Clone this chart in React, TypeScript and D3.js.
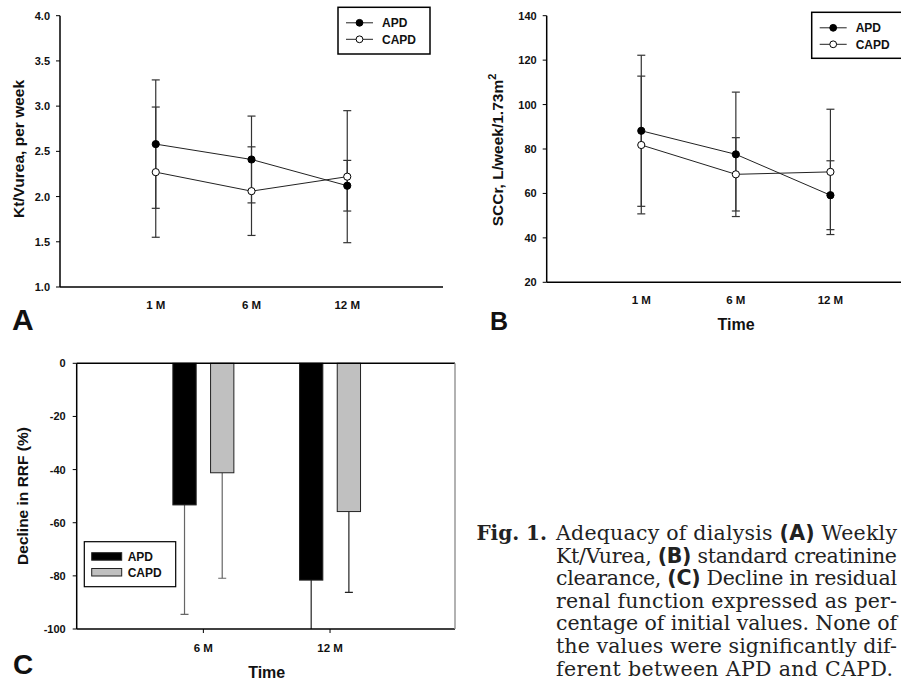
import React from "react";
import * as d3 from "d3";

// ---- data ----
const timeLabels = ["1 M", "6 M", "12 M"];
const ktvAPD = [2.58, 2.41, 2.12];
const ktvAPDsd = [0.71, 0.48, 0.28];
const ktvCAPD = [2.27, 2.06, 2.22];
const ktvCAPDsd = [0.72, 0.49, 0.73];
const ktvTicks = [1.0, 1.5, 2.0, 2.5, 3.0, 3.5, 4.0];

const sccrAPD = [88.2, 77.6, 59.2];
const sccrAPDsd = [34, 28, 15.5];
const sccrCAPD = [81.8, 68.6, 69.7];
const sccrCAPDsd = [31, 16.5, 28.2];
const sccrTicks = [20, 40, 60, 80, 100, 120, 140];

const rrfLabels = ["6 M", "12 M"];
const rrfAPD = [-53.3, -81.6];
const rrfAPDsd = [41.2, 30];
const rrfCAPD = [-41.2, -55.8];
const rrfCAPDsd = [39.7, 30.4];
const rrfTicks = [-100, -80, -60, -40, -20, 0];
const seriesNames = ["APD", "CAPD"];

const captionLines = [
  [["b", "Fig. 1."]],
  [["n", "Adequacy of dialysis "], ["s", "(A)"], ["n", " Weekly"]],
  [["n", "Kt/Vurea, "], ["s", "(B)"], ["n", " standard creatinine"]],
  [["n", "clearance, "], ["s", "(C)"], ["n", " Decline in residual"]],
  [["n", "renal function expressed as per-"]],
  [["n", "centage of initial values. None of"]],
  [["n", "the values were significantly dif-"]],
  [["n", "ferent between APD and CAPD."]],
];

const SANS = "'Liberation Sans', Arial, sans-serif";
const SERIF = "'DejaVu Serif', serif";

function LinePanel(props: {
  x0: number; x1: number; yTop: number; yBot: number; domain: [number, number];
  ticks: number[]; fmt: (v: number) => string; apd: number[]; apdSd: number[];
  capd: number[]; capdSd: number[]; legend: { x: number; y: number; w: number; h: number };
  xLabelY: number;
}) {
  const { x0, x1, yTop, yBot, domain, ticks, fmt, apd, apdSd, capd, capdSd, legend, xLabelY } = props;
  const x = d3.scaleLinear().domain([0, 4]).range([x0, x1]);
  const y = d3.scaleLinear().domain(domain).range([yBot, yTop]);
  const line = d3.line<number>().x((_, i) => x(i + 1)).y((d) => y(d));
  const series = [
    { v: apd, sd: apdSd, fill: "#000" },
    { v: capd, sd: capdSd, fill: "#fff" },
  ];
  return (
    <g>
      <line x1={x0} x2={x0} y1={yTop} y2={yBot} stroke="#000" strokeWidth={1.5} />
      <line x1={x0} x2={x1} y1={yBot} y2={yBot} stroke="#000" strokeWidth={1.5} />
      {ticks.map((t) => (
        <g key={t}>
          <line x1={x0 - 4} x2={x0} y1={y(t)} y2={y(t)} stroke="#000" strokeWidth={1} />
          <text x={x0 - 10} y={y(t) + 4} textAnchor="end" fontFamily={SANS} fontWeight="bold" fontSize={11} fill="#111">
            {fmt(t)}
          </text>
        </g>
      ))}
      {timeLabels.map((l, i) => (
        <text key={l} x={x(i + 1)} y={xLabelY} textAnchor="middle" fontFamily={SANS} fontWeight="bold" fontSize={11.5} fill="#111">
          {l}
        </text>
      ))}
      {series.map((s, si) =>
        s.v.map((v, i) => {
          const cx = x(i + 1);
          const hi = y(v + s.sd[i]);
          const lo = y(v - s.sd[i]);
          return (
            <g key={si + "-" + i} stroke="#333" strokeWidth={1.2}>
              <line x1={cx} x2={cx} y1={hi} y2={lo} />
              <line x1={cx - 4} x2={cx + 4} y1={hi} y2={hi} />
              <line x1={cx - 4} x2={cx + 4} y1={lo} y2={lo} />
            </g>
          );
        })
      )}
      {series.map((s, si) => (
        <path key={"l" + si} d={line(s.v) || ""} fill="none" stroke="#222" strokeWidth={1} />
      ))}
      {series.map((s, si) =>
        s.v.map((v, i) => (
          <circle key={"c" + si + i} cx={x(i + 1)} cy={y(v)} r={3.6} fill={s.fill} stroke="#000" strokeWidth={1} />
        ))
      )}
      <rect x={legend.x} y={legend.y} width={legend.w} height={legend.h} fill="#fff" stroke="#000" strokeWidth={1.5} />
      {series.map((s, si) => {
        const ly = legend.y + 15.5 + si * 16.5;
        const lx = legend.x + 8;
        return (
          <g key={"lg" + si}>
            <line x1={lx} x2={lx + 27} y1={ly} y2={ly} stroke="#222" strokeWidth={1} />
            <circle cx={lx + 13.5} cy={ly} r={3.4} fill={s.fill} stroke="#000" strokeWidth={1} />
            <text x={lx + 36} y={ly + 4.3} fontFamily={SANS} fontWeight="bold" fontSize={12} fill="#111">
              {seriesNames[si]}
            </text>
          </g>
        );
      })}
    </g>
  );
}

function BarPanel() {
  const x0 = 76.7, x1 = 456.7, yTop = 363.3, yBot = 629;
  const x = d3.scaleLinear().domain([0, 3]).range([x0, x1]);
  const y = d3.scaleLinear().domain([-100, 0]).range([yBot, yTop]);
  const inner = d3.scaleBand<string>().domain(seriesNames).range([-30.5, 30.5]).paddingInner(0.382);
  const data = [
    { v: rrfAPD, sd: rrfAPDsd, fill: "#000" },
    { v: rrfCAPD, sd: rrfCAPDsd, fill: "#c0c0c0" },
  ];
  return (
    <g>
      <defs>
        <clipPath id="cclip">
          <rect x={x0} y={yTop} width={x1 - x0} height={yBot - yTop} />
        </clipPath>
      </defs>
      {data.map((s, si) =>
        s.v.map((v, i) => {
          const bx = x(i + 1) + (inner(seriesNames[si]) as number);
          const bw = inner.bandwidth();
          const cx = bx + bw / 2;
          const lo = y(v - s.sd[i]);
          return (
            <g key={si + "-" + i}>
              <g clipPath="url(#cclip)" stroke={i === 0 ? "#666" : "#222"} strokeWidth={1.2}>
                <line x1={cx} x2={cx} y1={y(v)} y2={lo} />
                <line x1={cx - 4} x2={cx + 4} y1={lo} y2={lo} />
              </g>
              <rect x={bx} y={y(0)} width={bw} height={y(v) - y(0)} fill={s.fill} stroke="#222" strokeWidth={1} />
            </g>
          );
        })
      )}
      <line x1={x0} x2={x0} y1={yTop} y2={yBot} stroke="#000" strokeWidth={1.5} />
      <line x1={x0} x2={455} y1={yBot} y2={yBot} stroke="#000" strokeWidth={1.5} />
      <line x1={x0} x2={455} y1={yTop} y2={yTop} stroke="#000" strokeWidth={1.5} />
      <line x1={455} x2={455} y1={yTop} y2={yBot} stroke="#999" strokeWidth={1.5} />
      {rrfTicks.map((t) => (
        <g key={t}>
          <line x1={x0 - 4} x2={x0} y1={y(t)} y2={y(t)} stroke="#000" strokeWidth={1} />
          <text x={x0 - 11} y={y(t) + 4} textAnchor="end" fontFamily={SANS} fontWeight="bold" fontSize={11} fill="#111">
            {t}
          </text>
        </g>
      ))}
      {rrfLabels.map((l, i) => (
        <g key={l}>
          <line x1={x(i + 1)} x2={x(i + 1)} y1={yBot} y2={yBot + 4} stroke="#000" strokeWidth={1} />
          <text x={x(i + 1)} y={652} textAnchor="middle" fontFamily={SANS} fontWeight="bold" fontSize={11.5} fill="#111">
            {l}
          </text>
        </g>
      ))}
      <rect x={84.3} y={541.7} width={91.4} height={45} fill="#fff" stroke="#000" strokeWidth={1.2} />
      {data.map((s, si) => (
        <g key={"lg" + si}>
          <rect x={91.7} y={552.7 + si * 15.8} width={30} height={7.5} fill={s.fill} stroke="#222" strokeWidth={1} />
          <text x={127.7} y={560.8 + si * 15.8} fontFamily={SANS} fontWeight="bold" fontSize={12} fill="#111">
            {seriesNames[si]}
          </text>
        </g>
      ))}
    </g>
  );
}

export default function App() {
  return (
    <svg width={901} height={678} style={{ position: "absolute", left: 0, top: 0, background: "#fff" }}>
      <rect x={0} y={0} width={901} height={678} fill="#fff" />
      <LinePanel
        x0={60} x1={443} yTop={15.7} yBot={287} domain={[1, 4]} ticks={ktvTicks}
        fmt={(v) => d3.format(".1f")(v)} apd={ktvAPD} apdSd={ktvAPDsd} capd={ktvCAPD} capdSd={ktvCAPDsd}
        legend={{ x: 338, y: 7.3, w: 92, h: 46.7 }} xLabelY={308.5}
      />
      <text transform="translate(24,149) rotate(-90)" textAnchor="middle" fontFamily={SANS} fontWeight="bold" fontSize={15.5} fill="#111">
        Kt/Vurea, per week
      </text>
      <text x={12} y={330} fontFamily={SANS} fontWeight="900" fontSize={30} fill="#111">A</text>

      <LinePanel
        x0={546.7} x1={925} yTop={15.7} yBot={282.3} domain={[20, 140]} ticks={sccrTicks}
        fmt={(v) => String(v)} apd={sccrAPD} apdSd={sccrAPDsd} capd={sccrCAPD} capdSd={sccrCAPDsd}
        legend={{ x: 811.7, y: 12.3, w: 100, h: 46 }} xLabelY={304}
      />
      <text transform="translate(503,150) rotate(-90)" textAnchor="middle" fontFamily={SANS} fontWeight="bold" fontSize={15.5} fill="#111">
        SCCr, L/week/1.73m<tspan fontSize={11} dy={-7}>2</tspan>
      </text>
      <text x={736} y={330} textAnchor="middle" fontFamily={SANS} fontWeight="bold" fontSize={16} fill="#111">Time</text>
      <text x={490} y={329.5} fontFamily={SANS} fontWeight="900" fontSize={25} fill="#111">B</text>

      <BarPanel />
      <text transform="translate(27.5,496) rotate(-90)" textAnchor="middle" fontFamily={SANS} fontWeight="bold" fontSize={15.5} fill="#111">
        Decline in RRF (%)
      </text>
      <text x={266.7} y={678} textAnchor="middle" fontFamily={SANS} fontWeight="bold" fontSize={16} fill="#111">Time</text>
      <text x={13} y={674} fontFamily={SANS} fontWeight="900" fontSize={28} fill="#111">C</text>

      <text x={547} y={540} textAnchor="end" fontFamily={SERIF} fontWeight="bold" fontSize={20} fill="#222">Fig. 1.</text>
      {captionLines.slice(1).map((parts, i) => (
        <text
          key={i} x={556} y={540 + i * 22.6} fontFamily={SERIF} fontSize={20.5} fill="#222"
          textLength={i === 6 ? 337 : 341} lengthAdjust="spacing"
        >
          {parts.map(([k, s], j) => (
            <tspan key={j} fontFamily={k === "s" ? "'DejaVu Sans', sans-serif" : SERIF} fontWeight={k === "s" ? "bold" : "normal"}>
              {s}
            </tspan>
          ))}
        </text>
      ))}
    </svg>
  );
}
